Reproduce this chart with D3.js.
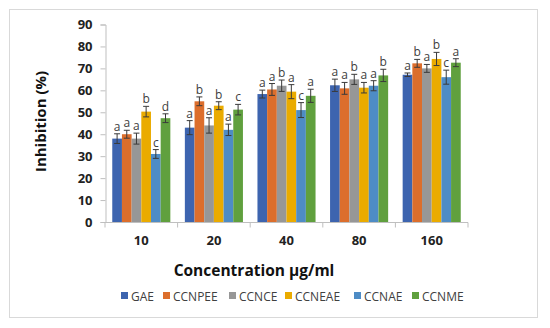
<!DOCTYPE html>
<html><head><meta charset="utf-8">
<script src="https://cdn.jsdelivr.net/npm/d3@7/dist/d3.min.js"></script>
<style>body{margin:0;background:#fff}svg{display:block}text{font-family:"Open Sans",sans-serif}</style>
</head><body>
<svg id="c" width="550" height="328"></svg>
<script>
const categories = ["10", "20", "40", "80", "160"];
const seriesNames = ["GAE", "CCNPEE", "CCNCE", "CCNEAE", "CCNAE", "CCNME"];
const GAE    = [38, 43, 58.3, 62.3, 67.1];
const CCNPEE = [40, 55, 60.4, 60.9, 72.3];
const CCNCE  = [38, 44, 62.1, 65, 70];
const CCNEAE = [50.3, 53, 59.4, 61.2, 74.3];
const CCNAE  = [31, 42, 51, 62.1, 66];
const CCNME  = [47.3, 51.2, 57.5, 66.8, 72.6];
const errGAE    = [2.2, 3.2, 1.8, 2.8, 0.8];
const errCCNPEE = [1.8, 2, 2.7, 2.7, 1.8];
const errCCNCE  = [2.5, 3.5, 2.6, 2.3, 1.8];
const errCCNEAE = [2.4, 1.8, 3.2, 2.4, 3];
const errCCNAE  = [2, 2.6, 3.4, 2.3, 3.2];
const errCCNME  = [2, 2.4, 3, 2.8, 1.8];
const lettersGAE    = ["a", "a", "a", "a", "a"];
const lettersCCNPEE = ["a", "b", "a", "a", "b"];
const lettersCCNCE  = ["a", "a", "b", "b", "a"];
const lettersCCNEAE = ["b", "b", "a", "a", "b"];
const lettersCCNAE  = ["c", "a", "c", "a", "c"];
const lettersCCNME  = ["d", "c", "a", "b", "a"];
const yTicks = [0, 10, 20, 30, 40, 50, 60, 70, 80, 90];
const colors = ["#3d64af", "#dc6e2c", "#979797", "#eaab00", "#4e8cc5", "#60a03e"];

const values = [GAE, CCNPEE, CCNCE, CCNEAE, CCNAE, CCNME];
const errors = [errGAE, errCCNPEE, errCCNCE, errCCNEAE, errCCNAE, errCCNME];
const letters = [lettersGAE, lettersCCNPEE, lettersCCNCE, lettersCCNEAE, lettersCCNAE, lettersCCNME];

const svg = d3.select("#c");
// outer frame
svg.append("rect").attr("x", 9.5).attr("y", 9.5).attr("width", 528).attr("height", 308)
  .attr("fill", "#fff").attr("stroke", "#d9d9d9").attr("stroke-width", 1);

const x0 = 105, x1 = 468, yTop = 24.5, yBot = 222;
const x = d3.scaleBand().domain(categories).range([x0, x1]).paddingInner(0).paddingOuter(0);
const gw = x.bandwidth() * 0.8;
const xs = d3.scaleBand().domain(seriesNames).range([0, gw]).padding(0);
const y = d3.scaleLinear().domain([0, 90]).range([yBot, yTop]);

// y axis
const yAxis = d3.axisLeft(y).tickValues(yTicks).tickSize(5).tickPadding(8);
const gy = svg.append("g").attr("transform", `translate(${x0 + 0.5},0)`).call(yAxis);
gy.select(".domain").attr("stroke", "#bfbfbf");
gy.selectAll(".tick line").attr("stroke", "#bfbfbf");
gy.selectAll(".tick text").attr("font-family", "Open Sans").attr("font-weight", "bold")
  .attr("font-size", 13).attr("fill", "#222").attr("dy", "0.34em");

// x axis
const xAxis = d3.axisBottom(x).tickSize(0).tickPadding(13);
const gx = svg.append("g").attr("transform", `translate(0,${yBot + 0.5})`).call(xAxis);
gx.select(".domain").attr("stroke", "#bfbfbf").attr("d", `M${x0},5V0H${x1}V5`);
gx.selectAll(".tick text").attr("font-family", "Open Sans").attr("font-weight", "bold")
  .attr("font-size", 13).attr("fill", "#222");
// category separators
gx.selectAll(".sep").data(categories.slice(1)).enter().append("line")
  .attr("x1", d => x(d)).attr("x2", d => x(d)).attr("y1", 0).attr("y2", 5).attr("stroke", "#bfbfbf");

// bars
const groups = svg.append("g").selectAll("g").data(categories).enter().append("g")
  .attr("transform", d => `translate(${x(d) + (x.bandwidth() - gw) / 2},0)`);
groups.each(function (cat, ci) {
  const g = d3.select(this);
  seriesNames.forEach((s, si) => {
    const v = values[si][ci], e = errors[si][ci];
    const bx = xs(s), bw = xs.bandwidth(), cx = bx + bw / 2;
    g.append("rect").attr("x", bx).attr("y", y(v)).attr("width", bw).attr("height", yBot - y(v))
      .attr("fill", colors[si]);
    const eg = g.append("g").attr("stroke", "#3a3a3a").attr("stroke-width", 1);
    eg.append("line").attr("x1", cx).attr("x2", cx).attr("y1", y(v - e)).attr("y2", y(v + e));
    eg.append("line").attr("x1", cx - 3).attr("x2", cx + 3).attr("y1", y(v + e)).attr("y2", y(v + e));
    eg.append("line").attr("x1", cx - 3).attr("x2", cx + 3).attr("y1", y(v - e)).attr("y2", y(v - e));
    g.append("text").attr("x", cx).attr("y", y(v + e) - 3).attr("text-anchor", "middle")
      .attr("font-size", 12).attr("fill", "#404040").text(letters[si][ci]);
  });
});

// axis titles
svg.append("text").attr("transform", `translate(46,121.5) rotate(-90)`)
  .attr("text-anchor", "middle").attr("font-weight", "bold").attr("font-size", 15).attr("fill", "#111")
  .text("Inhibition (%)");
svg.append("text").attr("x", 254).attr("y", 276).attr("text-anchor", "middle")
  .attr("font-weight", "bold").attr("font-size", 15.5).attr("fill", "#111")
  .text("Concentration µg/ml");

// legend
const legX = [121, 163, 229, 285, 354, 412];
const leg = svg.append("g").selectAll("g").data(seriesNames).enter().append("g")
  .attr("transform", (d, i) => `translate(${legX[i]},296)`);
leg.append("rect").attr("x", 0).attr("y", -4).attr("width", 7).attr("height", 7).attr("fill", (d, i) => colors[i]);
leg.append("text").attr("x", 10).attr("y", 4.5).attr("font-size", 12).attr("fill", "#404040").text(d => d);
</script>
</body></html>
